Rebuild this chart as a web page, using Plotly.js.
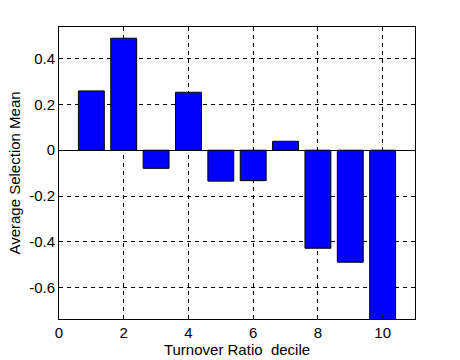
<!DOCTYPE html>
<html>
<head>
<meta charset="utf-8">
<script src="https://cdn.plot.ly/plotly-3.0.1.min.js"></script>
<style>html,body{margin:0;padding:0;background:#fff;}#chart{width:460px;height:360px;}</style>
</head>
<body>
<div id="chart"></div>
<script>
const deciles = [1, 2, 3, 4, 5, 6, 7, 8, 9, 10];
const selectionMean = [0.259, 0.489, -0.079, 0.253, -0.135, -0.133, 0.039, -0.428, -0.489, -0.75];
const xTicks = [0, 2, 4, 6, 8, 10];
const yTicks = [-0.6, -0.4, -0.2, 0, 0.2, 0.4];
const yTickLabels = ['-0.6', '-0.4', '-0.2', '0', '0.2', '0.4'];

const font = {family: 'Liberation Sans, Arial, sans-serif', size: 15, color: '#000'};

Plotly.newPlot('chart', [{
  type: 'bar',
  x: deciles,
  y: selectionMean,
  width: 0.8,
  marker: {color: '#0000ff', line: {color: '#000', width: 1}},
  hoverinfo: 'none'
}], {
  width: 460, height: 360,
  margin: {l: 59, r: 45, t: 27, b: 41},
  paper_bgcolor: '#fff',
  plot_bgcolor: '#fff',
  font: font,
  showlegend: false,
  xaxis: {
    range: [0, 11],
    tickvals: xTicks,
    ticktext: xTicks.map(String),
    ticks: 'inside', ticklen: 4, tickcolor: '#000',
    showline: true, linecolor: '#000', linewidth: 1, mirror: 'ticks',
    showgrid: true, gridcolor: '#000', griddash: '4px,4px', gridwidth: 1,
    zeroline: false,
    tickfont: font,
    title: {text: 'Turnover Ratio  decile', font: font, standoff: 3}
  },
  yaxis: {
    range: [-0.737, 0.538],
    tickvals: yTicks,
    ticktext: yTickLabels,
    ticks: 'inside', ticklen: 4, tickcolor: '#000',
    showline: true, linecolor: '#000', linewidth: 1, mirror: 'ticks',
    showgrid: true, gridcolor: '#000', griddash: '4px,4px', gridwidth: 1,
    zeroline: true, zerolinecolor: '#000', zerolinewidth: 1,
    tickfont: font,
    title: {text: 'Average Selection Mean', font: font, standoff: 4}
  }
}, {displayModeBar: false, staticPlot: true});
</script>
</body>
</html>
